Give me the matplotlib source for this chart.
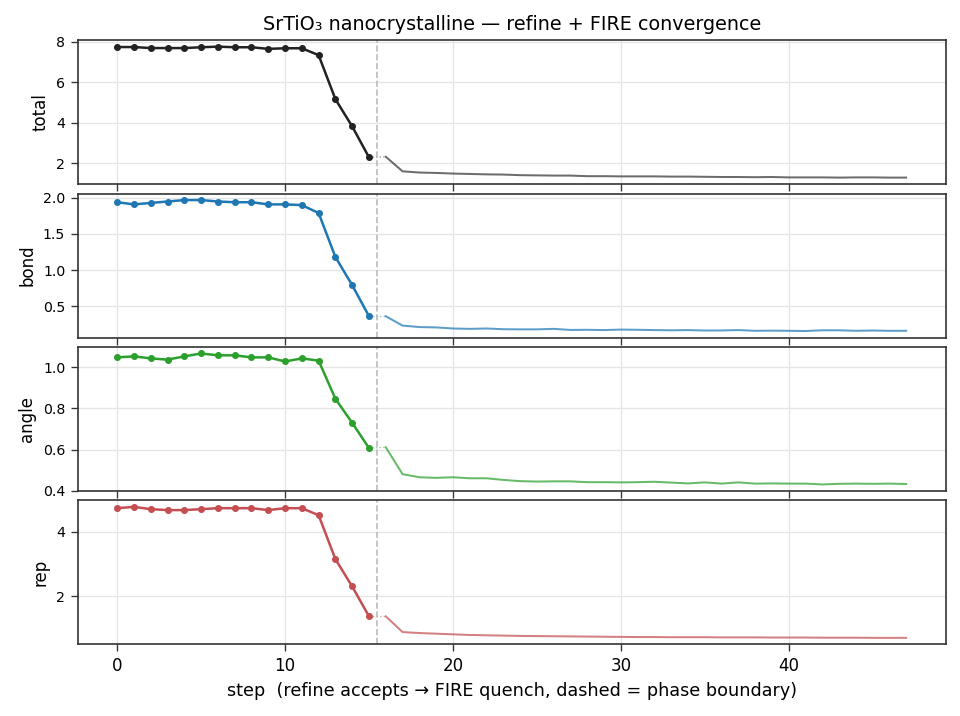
import numpy as np
import matplotlib
matplotlib.use("Agg")
import matplotlib.pyplot as plt
from matplotlib.ticker import MaxNLocator

# refine phase: steps 0..15, FIRE phase: steps 16..47
refine_steps = list(range(0, 16))
fire_steps = list(range(16, 48))

total_refine = [7.73, 7.73, 7.68, 7.68, 7.68, 7.72, 7.75, 7.72, 7.72, 7.64, 7.67, 7.67,
                7.33, 5.15, 3.81, 2.28]
total_fire = [2.31, 1.59, 1.53, 1.51, 1.48, 1.46, 1.44, 1.43, 1.40, 1.39, 1.38, 1.38,
              1.35, 1.35, 1.34, 1.34, 1.34, 1.33, 1.33, 1.32, 1.31, 1.31, 1.30, 1.31,
              1.29, 1.29, 1.29, 1.28, 1.29, 1.29, 1.28, 1.28]

bond_refine = [1.94, 1.91, 1.93, 1.95, 1.97, 1.97, 1.95, 1.94, 1.94, 1.91, 1.91, 1.90,
               1.79, 1.18, 0.79, 0.36]
bond_fire = [0.36, 0.23, 0.21, 0.205, 0.19, 0.185, 0.19, 0.18, 0.178, 0.178, 0.185, 0.17,
             0.172, 0.168, 0.175, 0.172, 0.168, 0.165, 0.168, 0.162, 0.163, 0.168, 0.158, 0.16,
             0.158, 0.155, 0.165, 0.165, 0.158, 0.162, 0.158, 0.158]

angle_refine = [1.049, 1.054, 1.044, 1.038, 1.054, 1.068, 1.059, 1.059, 1.049, 1.049,
                1.029, 1.044, 1.033, 0.847, 0.730, 0.607]
angle_fire = [0.611, 0.480, 0.465, 0.462, 0.465, 0.460, 0.460, 0.452, 0.446, 0.444,
              0.445, 0.445, 0.441, 0.441, 0.440, 0.441, 0.443, 0.439, 0.435, 0.440,
              0.434, 0.440, 0.434, 0.435, 0.434, 0.434, 0.430, 0.433, 0.434, 0.433,
              0.434, 0.432]

rep_refine = [4.74, 4.78, 4.71, 4.68, 4.68, 4.71, 4.74, 4.74, 4.74, 4.68, 4.74, 4.74,
              4.52, 3.15, 2.30, 1.37]
rep_fire = [1.37, 0.88, 0.85, 0.83, 0.81, 0.79, 0.78, 0.77, 0.76, 0.755, 0.75, 0.745,
            0.74, 0.735, 0.73, 0.725, 0.725, 0.72, 0.72, 0.72, 0.715, 0.715, 0.715, 0.71,
            0.71, 0.71, 0.705, 0.705, 0.705, 0.70, 0.70, 0.70]

names = ["total", "bond", "angle", "rep"]
colors = ["#222222", "#1f77b4", "#2ca02c", "#c44e52"]
fire_colors = ["#333333", "#1f77b4", "#2ca02c", "#c44e52"]
refine = [total_refine, bond_refine, angle_refine, rep_refine]
fire = [total_fire, bond_fire, angle_fire, rep_fire]
boundary = 15.5

fig, axes = plt.subplots(4, 1, sharex=True, figsize=(8, 716 / 120), dpi=120)
fig.subplots_adjust(left=0.081, right=0.985, top=0.944, bottom=0.10, hspace=0.065)

for ax, name, c, fc, r, f in zip(axes, names, colors, fire_colors, refine, fire):
    ax.plot(refine_steps, r, color=c, lw=1.5, marker="o", ms=3.2, zorder=3)
    ax.plot([refine_steps[-1], fire_steps[0]], [r[-1], f[0]], color=fc, lw=0.8,
            ls=":", alpha=0.5)
    ax.plot(fire_steps, f, color=fc, lw=1.2, alpha=0.72, zorder=3)
    ax.axvline(boundary, color="#bbbbbb", ls="--", lw=1.0)
    ax.set_ylabel(name, fontsize=10)
    ax.yaxis.set_major_locator(MaxNLocator(4, steps=[1, 2, 5, 10]))
    ax.grid(True, color="#e5e5e5", lw=0.8)
    ax.set_axisbelow(True)
    ax.tick_params(axis="y", labelsize=8.5, color="#333333", length=4)
    ax.tick_params(axis="x", labelsize=10, color="#333333", length=4)
    for s in ax.spines.values():
        s.set_color("#333333")
        s.set_linewidth(1.0)

axes[0].set_title("SrTiO₃ nanocrystalline — refine + FIRE convergence", fontsize=11.5)
axes[-1].set_xlabel("step  (refine accepts → FIRE quench, dashed = phase boundary)",
                    fontsize=10.6)

fig.savefig("out.png", dpi=120)
